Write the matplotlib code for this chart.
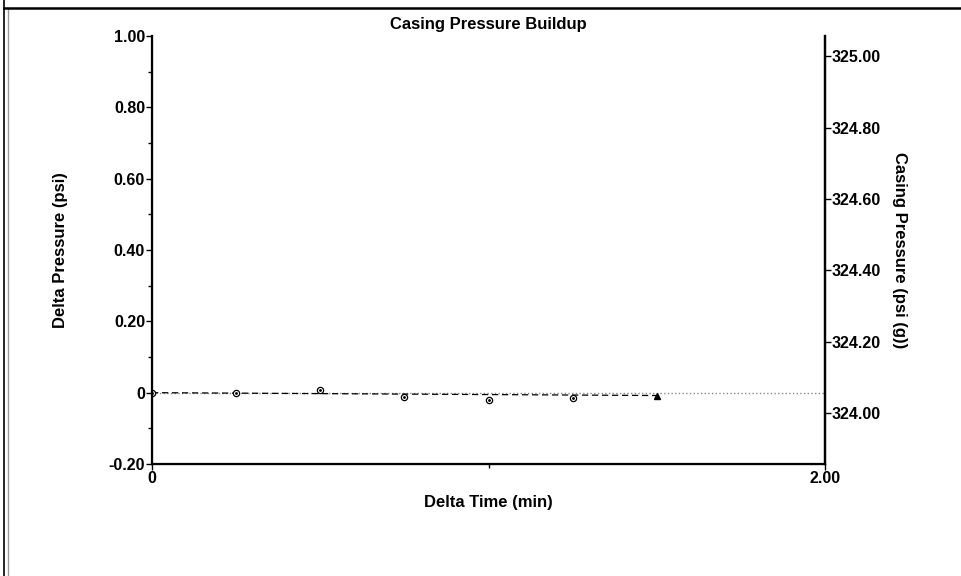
import numpy as np
import matplotlib.pyplot as plt
from matplotlib.lines import Line2D

# data
delta_time = [0, 0.25, 0.5, 0.75, 1.0, 1.25, 1.5]          # min
delta_p = [0, -0.001, 0.007, -0.012, -0.020, -0.016, -0.008]  # psi
p_start = 324.057                                             # psi (g)

left_ticks = [1.0, 0.8, 0.6, 0.4, 0.2, 0, -0.2]
left_labels = ['1.00', '0.80', '0.60', '0.40', '0.20', '0', '-0.20']
right_ticks = [325.0, 324.8, 324.6, 324.4, 324.2, 324.0]
right_labels = ['325.00', '324.80', '324.60', '324.40', '324.20', '324.00']
x_ticks = [0, 2.0]
x_labels = ['0', '2.00']

plt.rcParams['font.family'] = ['Liberation Sans', 'DejaVu Sans']
plt.rcParams['font.weight'] = 'bold'

fig = plt.figure(figsize=(9.61, 5.76), dpi=100)
ax = fig.add_axes([152/961, 1-464/576, 673/961, 428/576])

# page frame
fig.add_artist(Line2D([4/961, 4/961], [0, 1], color='black', lw=1.2, transform=fig.transFigure))
fig.add_artist(Line2D([8/961, 8/961], [0, 1-9/576], color='#999999', lw=1.0, transform=fig.transFigure))
fig.add_artist(Line2D([4/961, 1], [1-7.5/576, 1-7.5/576], color='black', lw=1.8, transform=fig.transFigure))

ax.set_xlim(0, 2.0)
ax.set_ylim(-0.2, 1.0)

# zero line
ax.axhline(0, color='#888888', lw=1.0, ls=':')
# trend line from first to last reading
ax.plot([delta_time[0], delta_time[-1]], [delta_p[0], delta_p[-1]], color='black', lw=0.9,
        ls=(0, (5, 3)))
ax.plot(delta_time[:-1], delta_p[:-1], 'o', mfc='white', mec='black', ms=4.5, mew=0.9)
ax.plot(delta_time[:-1], delta_p[:-1], '.', color='black', ms=2)
ax.plot(delta_time[-1], delta_p[-1], '^', color='black', ms=5)

for s in ['left', 'bottom', 'right']:
    ax.spines[s].set_linewidth(1.6)
ax.spines['top'].set_visible(False)

ax.set_yticks(left_ticks)
ax.set_yticklabels(left_labels)
ax.set_yticks(np.arange(-0.1, 1.0, 0.2), minor=True)
ax.set_xticks(x_ticks)
ax.set_xticklabels(x_labels)
ax.set_xticks([1.0], minor=True)
ax.tick_params(axis='both', which='major', labelsize=11.5, length=4, width=1, pad=1)
ax.tick_params(axis='both', which='minor', length=3, width=1)

ax2 = ax.twinx()
ax2.set_ylim(-0.2 + p_start, 1.0 + p_start)
ax2.set_yticks(right_ticks)
ax2.set_yticklabels(right_labels)
ax2.tick_params(axis='y', labelsize=11.5, length=4, width=1, pad=1)
ax2.spines['top'].set_visible(False)
ax2.spines['right'].set_linewidth(1.6)

for t in ax.get_xticklabels() + ax.get_yticklabels() + ax2.get_yticklabels():
    t.set_fontweight('bold')

fig.text(488/961, 1-24/576, 'Casing Pressure Buildup', ha='center', va='center',
         fontsize=12, fontweight='bold')
fig.text(60/961, 1-250/576, 'Delta Pressure (psi)', ha='center', va='center',
         rotation=90, fontsize=12, fontweight='bold')
fig.text(900/961, 1-250/576, 'Casing Pressure (psi (g))', ha='center', va='center',
         rotation=-90, fontsize=12, fontweight='bold')
fig.text(488/961, 1-502/576, 'Delta Time (min)', ha='center', va='center',
         fontsize=12, fontweight='bold')

fig.savefig('out.png', dpi=100)
